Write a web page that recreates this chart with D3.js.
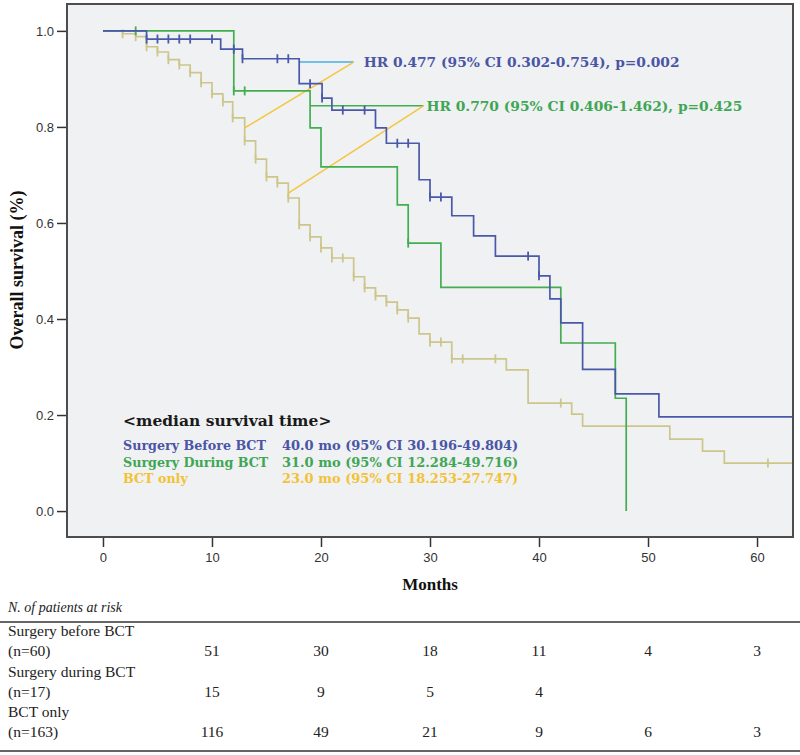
<!DOCTYPE html>
<html><head><meta charset="utf-8">
<script src="https://cdn.jsdelivr.net/npm/d3@7"></script>
<style>body{margin:0;background:#fff}svg{display:block}</style>
</head><body>
<svg id="c" width="800" height="755"></svg>
<script>
// ---------- data ----------
const blueTime = [0, 4, 10.8, 12.8, 18, 20.1, 21, 25, 26, 29, 30, 32, 34, 36, 40, 41, 42, 44, 47, 51];
const blueSurv = [1, 0.983, 0.962, 0.942, 0.890, 0.860, 0.835, 0.798, 0.766, 0.690, 0.654, 0.615, 0.573, 0.531, 0.490, 0.442, 0.392, 0.295, 0.244, 0.196];
const blueCens = [4, 5, 6, 7, 8, 10, 12, 12.8, 16, 17, 19, 20.1, 22, 24, 27, 28, 30, 31, 39, 40];

const greenTime = [0, 12, 19, 20, 27, 28, 31, 42, 47, 48];
const greenSurv = [1, 0.875, 0.798, 0.717, 0.6375, 0.558, 0.466, 0.350, 0.235, 0];
const greenCens = [3, 12, 13, 28];

const bctTime = [0, 1.8, 3, 4, 5, 6, 7, 8, 9, 10, 11, 11.9, 13, 14, 15, 16, 17, 18, 19, 20, 21, 23, 24, 25, 26, 27, 28, 29, 30, 32, 37, 39, 43, 44, 52, 55, 57];
const bctSurv = [1, 0.994, 0.988, 0.967, 0.956, 0.940, 0.929, 0.913, 0.892, 0.869, 0.852, 0.819, 0.771, 0.733, 0.696, 0.683, 0.652, 0.596, 0.571, 0.548, 0.527, 0.488, 0.465, 0.448, 0.435, 0.419, 0.402, 0.369, 0.352, 0.317, 0.294, 0.225, 0.202, 0.177, 0.150, 0.125, 0.100];
const bctCens = [1.8, 3, 4, 5, 6, 7, 8, 9, 10, 11, 11.9, 13, 14, 15, 16, 17, 18, 19, 20, 21, 22, 23, 24, 25, 26, 27, 28, 30, 31, 32, 33, 36, 42, 61];

const xTicks = [0, 10, 20, 30, 40, 50, 60];
const yTicks = [0, 0.2, 0.4, 0.6, 0.8, 1.0];

const hrLabels = ["HR 0.477 (95% CI 0.302-0.754), p=0.002", "HR 0.770 (95% CI 0.406-1.462), p=0.425"];
const hrLevel = [0.935, 0.844];       // survival level of each HR bracket
const hrFrom = [18, 19];              // month where the bracket leaves the group curve
const hrTo = [23, 29.4];              // month where the bracket ends
const hrBctPoint = [[13, 0.798], [17, 0.662]]; // where the yellow line leaves the BCT curve

const medianTitle = "<median survival time>";
const medianGroups = ["Surgery Before BCT", "Surgery During BCT", "BCT only"];
const medianValues = ["40.0 mo (95% CI 30.196-49.804)", "31.0 mo (95% CI 12.284-49.716)", "23.0 mo (95% CI 18.253-27.747)"];

const riskTitle = "N. of patients at risk";
const riskGroups = ["Surgery before BCT", "Surgery during BCT", "BCT only"];
const riskN = ["(n=60)", "(n=17)", "(n=163)"];
const riskMonths = [10, 20, 30, 40, 50, 60];
const riskCounts = [[51, 30, 18, 11, 4, 3], [15, 9, 5, 4], [116, 49, 21, 9, 6, 3]];

// ---------- styles ----------
const C_BLUE = "#4a58aa", C_GREEN = "#43ad52", C_BCT = "#cdc68c", C_YEL = "#f4c640", C_LBLUE = "#4aaee4";
const T_BLUE = "#4a55a5", T_GREEN = "#3ea654", T_YEL = "#f2c235";

const svg = d3.select("#c");
const L = 67, T = 4, R = 793, B = 537;
const x = d3.scaleLinear().domain([-3.3, 63.3]).range([L, R]);
const y = d3.scaleLinear().domain([-0.054, 1.056]).range([B, T]);

svg.append("rect").attr("x", L).attr("y", T).attr("width", R - L).attr("height", B - T)
  .attr("fill", "#f0f1f3").attr("stroke", "none");

const clip = svg.append("clipPath").attr("id", "pc").append("rect")
  .attr("x", L).attr("y", T).attr("width", R - L).attr("height", B - T);
const g = svg.append("g").attr("clip-path", "url(#pc)");

const endX = x.domain()[1] + 1;
function stepPts(ts, ss, extend) {
  const p = ts.map((t, i) => [t, ss[i]]);
  if (extend) p.push([endX, ss[ss.length - 1]]);
  return p;
}
function valAt(ts, ss, t) {
  let v = ss[0];
  for (let i = 0; i < ts.length; i++) if (ts[i] <= t + 1e-9) v = ss[i];
  return v;
}
const line = d3.line().x(d => x(d[0])).y(d => y(d[1])).curve(d3.curveStepAfter);

function drawCurve(ts, ss, cens, col, extend, w) {
  g.append("path").datum(stepPts(ts, ss, extend)).attr("d", line)
    .attr("fill", "none").attr("stroke", col).attr("stroke-width", w);
  g.selectAll(null).data(cens).enter().append("line")
    .attr("x1", d => x(d)).attr("x2", d => x(d))
    .attr("y1", d => y(valAt(ts, ss, d)) - 4.5).attr("y2", d => y(valAt(ts, ss, d)) + 4.5)
    .attr("stroke", col).attr("stroke-width", 1.8);
}

drawCurve(bctTime, bctSurv, bctCens, C_BCT, true, 1.7);

// HR brackets
const hrCols = [C_LBLUE, C_GREEN];
hrLabels.forEach((lab, i) => {
  g.append("line").attr("x1", x(hrFrom[i])).attr("x2", x(hrTo[i]))
    .attr("y1", y(hrLevel[i])).attr("y2", y(hrLevel[i]))
    .attr("stroke", hrCols[i]).attr("stroke-width", 1.5);
  g.append("line").attr("x1", x(hrBctPoint[i][0])).attr("y1", y(hrBctPoint[i][1]))
    .attr("x2", x(hrTo[i])).attr("y2", y(hrLevel[i]))
    .attr("stroke", C_YEL).attr("stroke-width", 1.5);
});

drawCurve(greenTime, greenSurv, greenCens, C_GREEN, false, 1.7);
drawCurve(blueTime, blueSurv, blueCens, C_BLUE, true, 1.7);

// frame
svg.append("rect").attr("x", L).attr("y", T).attr("width", R - L).attr("height", B - T)
  .attr("fill", "none").attr("stroke", "#4d4d4d").attr("stroke-width", 2);

// axes
const ya = svg.append("g").attr("transform", `translate(${L - 1},0)`)
  .call(d3.axisLeft(y).tickValues(yTicks).tickFormat(d3.format(".1f")).tickSize(9).tickPadding(3));
const xa = svg.append("g").attr("transform", `translate(0,${B + 1})`)
  .call(d3.axisBottom(x).tickValues(xTicks).tickFormat(d3.format("d")).tickSize(9).tickPadding(6));
[ya, xa].forEach(a => {
  a.select(".domain").remove();
  a.selectAll(".tick line").attr("stroke", "#333").attr("stroke-width", 1.5);
  a.selectAll(".tick text").attr("fill", "#333").style("font-family", "Liberation Sans, Arial, sans-serif").style("font-size", "13px");
});

// axis titles
svg.append("text").attr("transform", `translate(23,270) rotate(-90)`).attr("text-anchor", "middle")
  .style("font-family", "Liberation Serif, Times New Roman, serif").style("font-weight", "bold").style("font-size", "18px")
  .attr("fill", "#111").text("Overall survival (%)");
svg.append("text").attr("x", 430).attr("y", 590).attr("text-anchor", "middle")
  .style("font-family", "Liberation Serif, Times New Roman, serif").style("font-weight", "bold").style("font-size", "17px")
  .attr("fill", "#111").text("Months");

// HR labels
const hrTextCols = [T_BLUE, T_GREEN];
const serifB = "DejaVu Serif, Georgia, serif";
hrLabels.forEach((lab, i) => {
  svg.append("text").attr("x", x(hrTo[i]) + (i === 0 ? 10 : 3)).attr("y", y(hrLevel[i])).attr("dy", "0.35em")
    .style("font-family", serifB).style("font-weight", "bold").style("font-size", "13.8px")
    .attr("fill", hrTextCols[i]).text(lab);
});

// median survival block
svg.append("text").attr("x", 123).attr("y", 426)
  .style("font-family", serifB).style("font-weight", "bold").style("font-size", "15.5px")
  .attr("fill", "#1a1a1a").text(medianTitle);
const medCols = [T_BLUE, T_GREEN, T_YEL];
medianGroups.forEach((grp, i) => {
  const yy = 450 + i * 16.5;
  svg.append("text").attr("x", 123).attr("y", yy)
    .style("font-family", serifB).style("font-weight", "bold").style("font-size", "12.7px")
    .attr("fill", medCols[i]).text(grp);
  svg.append("text").attr("x", 282).attr("y", yy)
    .style("font-family", serifB).style("font-weight", "bold").style("font-size", "13px")
    .attr("fill", medCols[i]).text(medianValues[i]);
});

// risk table
const tf = "Liberation Serif, Times New Roman, serif";
svg.append("text").attr("x", 8).attr("y", 612).style("font-family", tf).style("font-style", "italic")
  .style("font-size", "14px").attr("fill", "#222").text(riskTitle);
svg.append("line").attr("x1", 0).attr("x2", 800).attr("y1", 622).attr("y2", 622).attr("stroke", "#333").attr("stroke-width", 1.5);
svg.append("line").attr("x1", 0).attr("x2", 800).attr("y1", 751).attr("y2", 751).attr("stroke", "#333").attr("stroke-width", 1.5);
riskGroups.forEach((grp, i) => {
  const y0 = 636 + i * 40.5;
  svg.append("text").attr("x", 8).attr("y", y0).style("font-family", tf).style("font-size", "15.5px").attr("fill", "#222").text(grp);
  svg.append("text").attr("x", 8).attr("y", y0 + 20).style("font-family", tf).style("font-size", "15.5px").attr("fill", "#222").text(riskN[i]);
  riskCounts[i].forEach((n, j) => {
    svg.append("text").attr("x", x(riskMonths[j])).attr("y", y0 + 20).attr("text-anchor", "middle")
      .style("font-family", tf).style("font-size", "15.5px").attr("fill", "#222").text(n);
  });
});
</script>
</body></html>
